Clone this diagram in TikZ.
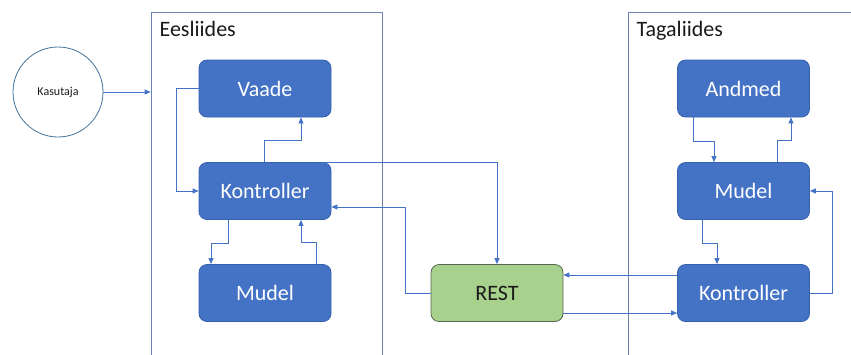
\documentclass[tikz,border=0pt]{standalone}
\usepackage{fontspec}
\setmainfont{Carlito}
\usetikzlibrary{arrows.meta,calc}
\definecolor{boxblue}{HTML}{4472C4}
\definecolor{boxedge}{HTML}{3560AE}
\definecolor{restgreen}{HTML}{A9D18E}
\definecolor{restedge}{HTML}{56684D}
\definecolor{linkblue}{HTML}{4472C4}
\definecolor{panelline}{HTML}{6A82B2}
\definecolor{circedge}{HTML}{41719C}
\definecolor{inktext}{HTML}{1A1A1A}
\tikzset{
  block/.style={rectangle, rounded corners=8pt, minimum width=132pt, minimum height=57pt,
    fill=boxblue, draw=boxedge, line width=0.8pt, text=white, font=\fontsize{22}{26}\selectfont, inner sep=0pt},
  restbox/.style={block, fill=restgreen, draw=restedge, text=inktext},
  panel/.style={rectangle, draw=panelline, line width=0.9pt, inner sep=0pt},
  panellabel/.style={anchor=base west, inner sep=0pt, text=inktext, font=\fontsize{22}{26}\selectfont},
  link/.style={draw=linkblue, line width=0.8pt, -{Triangle[length=6pt,width=5pt]}},
}
\begin{document}
\begin{tikzpicture}[x=1pt,y=-1pt]
\useasboundingbox (0,0) rectangle (851,354);

% user
\node[circle, draw=circedge, line width=0.8pt, minimum size=90pt, inner sep=0pt, text=inktext,
      font=\fontsize{12}{14}\selectfont] (user) at (58,92) {Kasutaja};

% frontend and backend panels (continue past the lower edge)
\node[panel, minimum width=231.3pt, minimum height=360pt, anchor=north west] (front) at (150.7,11.7) {};
\node[panel, minimum width=240pt, minimum height=360pt, anchor=north west] (back) at (627.5,12) {};
\node[panellabel] (frontlbl) at (159.5,36.8) {Eesliides};
\node[panellabel] (backlbl) at (636.5,36.8) {Tagaliides};

% frontend blocks
\node[block] (vaade) at (265,88.5) {Vaade};
\node[block] (kon) at (265,191) {Kontroller};
\node[block] (mudel) at (265,293) {Mudel};

% REST
\node[restbox] (rest) at (497,293) {REST};

% backend blocks
\node[block] (andmed) at (743.5,88.5) {Andmed};
\node[block] (bmud) at (743.5,191) {Mudel};
\node[block] (bkon) at (743.5,293) {Kontroller};

% user to frontend
\draw[link] (user.east) -- (user.east -| front.west);

% frontend links
\draw[link] (vaade.west) -- ++(-22,0) |- (kon.west);
\draw[link] ($(kon.north)+(-1,0)$) -- ++(0,-22) -| ($(vaade.south)+(36,0)$);
\draw[link] ($(kon.south)+(-37,0)$) -- ++(0,23) -| ($(mudel.north)+(-54,0)$);
\draw[link] ($(mudel.north)+(51,0)$) -- ++(0,-22) -| ($(kon.south)+(36,0)$);

% frontend <-> REST
\draw[link] ($(kon.north)+(58,0)$) -| (rest.north);
\draw[link] (rest.west) -- ++(-25,0) |- ($(kon.east)+(0,16)$);

% REST <-> backend
\draw[link] ($(bkon.west)+(0,-18)$) -- ($(rest.east)+(0,-18)$);
\draw[link] ($(rest.east)+(0,20)$) -- ($(bkon.west)+(0,20)$);

% backend links
\draw[link] ($(andmed.south)+(-50.5,0)$) -- ++(0,24) -| ($(bmud.north)+(-29.5,0)$);
\draw[link] ($(bmud.north)+(33.5,0)$) -- ++(0,-22) -| ($(andmed.south)+(47.5,0)$);
\draw[link] ($(bmud.south)+(-41.5,0)$) -- ++(0,23) -| ($(bkon.north)+(-26.5,0)$);
\draw[link] (bkon.east) -- ++(22,0) |- (bmud.east);
\end{tikzpicture}
\end{document}
